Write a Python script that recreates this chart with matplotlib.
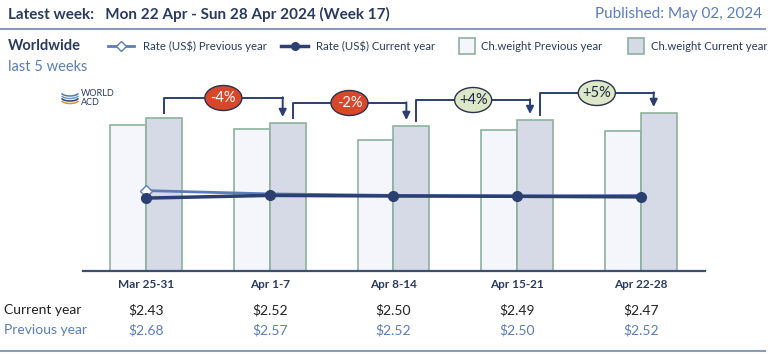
import numpy as np
import matplotlib
matplotlib.use("Agg")
import matplotlib.pyplot as plt
from matplotlib.patches import Ellipse, Rectangle, Arc
from matplotlib.lines import Line2D
from matplotlib.transforms import blended_transform_factory

plt.rcParams["font.family"] = ["Lato", "DejaVu Sans"]

# ---------------------------------------------------------------
# Data
# ---------------------------------------------------------------
weeks = ["Mar 25-31", "Apr 1-7", "Apr 8-14", "Apr 15-21", "Apr 22-28"]
weight_prev = [146, 142, 131, 141, 140]      # chargeable weight index, previous year
weight_curr = [153, 148, 145, 151, 158]      # chargeable weight index, current year
rate_curr = [2.43, 2.52, 2.50, 2.49, 2.47]
rate_prev = [2.68, 2.57, 2.52, 2.50, 2.52]
changes = ["-4%", "-2%", "+4%", "+5%"]

NAVY = "#2B3F73"
LIGHT_BLUE = "#5A7DBA"
EDGE = "#8DB19C"
PREV_FILL = "#F4F6FB"
CURR_FILL = "#D5DAE6"
TEXT = "#2A3A5E"

W, H = 770, 354
fig = plt.figure(figsize=(W / 100, H / 100), dpi=100)


def fx(px):
    return px / W


def fy(py):
    return 1 - py / H


# ---------------------------------------------------------------
# Header
# ---------------------------------------------------------------
fig.text(fx(8), fy(14), "Latest week:   Mon 22 Apr - Sun 28 Apr 2024 (Week 17)",
         fontsize=11, fontweight="bold", color=TEXT, va="center")
fig.text(fx(762), fy(14), "Published: May 02, 2024", fontsize=11,
         color=LIGHT_BLUE, va="center", ha="right")
fig.add_artist(Line2D([fx(0), fx(765)], [fy(29), fy(29)], color="#8A9BBE", lw=1.5))
fig.add_artist(Line2D([fx(0), fx(765)], [fy(351), fy(351)], color="#8A9BBE", lw=1.5))

fig.text(fx(8), fy(46), "Worldwide", fontsize=10.5, fontweight="bold", color=TEXT, va="center")
fig.text(fx(8), fy(67), "last 5 weeks", fontsize=10.5, color=LIGHT_BLUE, va="center")

# legend, drawn by hand to match the layout
fig.add_artist(Line2D([fx(108), fx(121), fx(134)], [fy(46)] * 3, color=LIGHT_BLUE, lw=2,
                      marker="D", markevery=[1], markersize=5,
                      markerfacecolor="white", markeredgecolor=LIGHT_BLUE))
fig.text(fx(143), fy(46), "Rate (US$) Previous year", fontsize=8.2, color=TEXT, va="center")
fig.add_artist(Line2D([fx(281), fx(295), fx(308)], [fy(46)] * 3, color=NAVY, lw=2.5,
                      marker="o", markevery=[1], markersize=5.5,
                      markerfacecolor=NAVY, markeredgecolor=NAVY))
fig.text(fx(316), fy(46), "Rate (US$) Current year", fontsize=8.2, color=TEXT, va="center")
fig.add_artist(Rectangle((fx(459), fy(54)), fx(16), 16 / H, facecolor=PREV_FILL,
                         edgecolor=EDGE, lw=1.2))
fig.text(fx(481), fy(46), "Ch.weight Previous year", fontsize=8.2, color=TEXT, va="center")
fig.add_artist(Rectangle((fx(628), fy(54)), fx(16), 16 / H, facecolor=CURR_FILL,
                         edgecolor=EDGE, lw=1.2))
fig.text(fx(651), fy(46), "Ch.weight Current year", fontsize=8.2, color=TEXT, va="center")

# small logo
for i, c in enumerate(["#4A78B8", "#6C9BD2", "#2B3F73", "#E08A3C"]):
    fig.add_artist(Arc((fx(70), fy(92 + i * 2.5)), fx(18), 8 / H, theta1=200, theta2=340,
                       color=c, lw=1.1))
fig.text(fx(81), fy(98), "WORLD\nACD", fontsize=6.5, color=TEXT, va="center",
         linespacing=0.9)

# ---------------------------------------------------------------
# Chart area
# ---------------------------------------------------------------
left, right, bottom, top = 83, 705, 271, 85
ax = fig.add_axes([fx(left), fy(bottom), fx(right - left), (bottom - top) / H])
x = np.arange(len(weeks))
bw = 0.29
ax.bar(x - bw / 2, weight_prev, bw, color=PREV_FILL, edgecolor=EDGE, lw=1.2, zorder=2)
ax.bar(x + bw / 2, weight_curr, bw, color=CURR_FILL, edgecolor=EDGE, lw=1.2, zorder=2)
ax.set_xlim(-0.51, 4.52)
ax.set_ylim(0, bottom - top)
for s in ["top", "left", "right"]:
    ax.spines[s].set_visible(False)
ax.spines["bottom"].set_color("#3D4E73")
ax.spines["bottom"].set_linewidth(1.6)
ax.set_yticks([])
ax.set_xticks(x)
ax.set_xticklabels(weeks, fontsize=8.5, fontweight="bold", color=TEXT)
ax.tick_params(axis="x", length=0, pad=6)
ax.patch.set_alpha(0)

# week-on-week change brackets
for i, lab in enumerate(changes):
    x0 = x[i] + bw / 2 + (0.04 if i > 0 else 0.0)
    x1 = x[i + 1] + bw / 2 - 0.04
    level = max(weight_curr[i], weight_curr[i + 1]) + 20
    ax.plot([x0, x0, x1], [weight_curr[i] + 5, level, level], color=NAVY, lw=1.4,
            clip_on=False, zorder=3)
    ax.annotate("", xy=(x1, weight_curr[i + 1] + 6), xytext=(x1, level + 0.7),
                arrowprops=dict(arrowstyle="-|>", color=NAVY, lw=1.4,
                                mutation_scale=11, shrinkA=0, shrinkB=0),
                annotation_clip=False, zorder=3)
    neg = lab.startswith("-")
    xm = (x0 + x1) / 2
    ax.add_patch(Ellipse((xm, level), 0.30, 25, facecolor="#D9472B" if neg else "#DDE8C8",
                         edgecolor="#2B3150", lw=1.0, clip_on=False, zorder=4))
    ax.text(xm, level, lab, ha="center", va="center", fontsize=10.5,
            color="white" if neg else "#1E2540", zorder=5)

# rates on a secondary axis
ax2 = ax.twinx()
ax2.set_ylim(0, 6.2)
ax2.axis("off")
ax2.plot(x, rate_prev, color=LIGHT_BLUE, lw=2, marker="D", markersize=6,
         markerfacecolor="white", markeredgecolor=LIGHT_BLUE, markevery=[0], zorder=3)
ax2.plot(x, rate_curr, color=NAVY, lw=2.5, marker="o", markersize=7,
         markerfacecolor=NAVY, markeredgecolor=NAVY, zorder=4)

# rate table under the chart
tr = blended_transform_factory(ax.transData, fig.transFigure)
fig.text(fx(4), fy(310), "Current year", fontsize=10, color="#222222", va="center")
fig.text(fx(4), fy(330), "Previous year", fontsize=10, color=LIGHT_BLUE, va="center")
for xi, rc, rp in zip(x, rate_curr, rate_prev):
    ax.text(xi, fy(310), f"${rc:.2f}", transform=tr, ha="center", va="center",
            fontsize=10, color="#222222")
    ax.text(xi, fy(330), f"${rp:.2f}", transform=tr, ha="center", va="center",
            fontsize=10, color=LIGHT_BLUE)

fig.savefig("out.png", dpi=100)
